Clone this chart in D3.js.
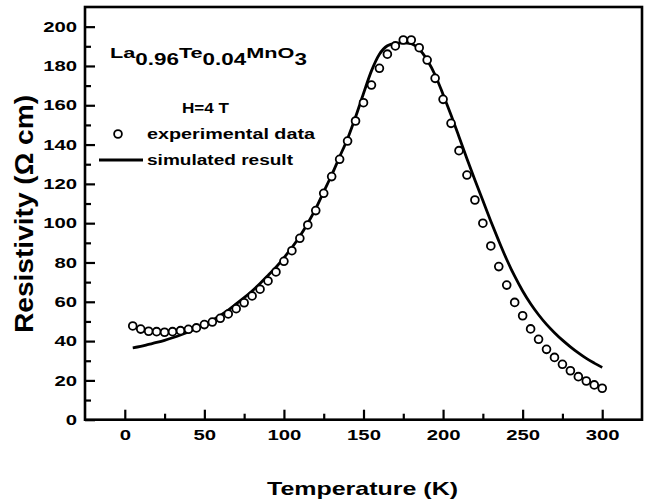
<!DOCTYPE html>
<html>
<head>
<meta charset="utf-8">
<script src="https://cdn.jsdelivr.net/npm/d3@7"></script>
<style>
  body { margin: 0; background: #fff; }
  svg { display: block; }
  text { font-family: Arial, "Liberation Sans", sans-serif; font-weight: bold; fill: #000; }
</style>
</head>
<body>
<svg id="fig" width="650" height="502"></svg>
<script>

// experimental data, H = 4 T (every 5 K)
var exp_T = [5, 10, 15, 20, 25, 30, 35, 40, 45, 50, 55, 60, 65, 70, 75, 80, 85, 90, 95, 100,
             105, 110, 115, 120, 125, 130, 135, 140, 145, 150, 155, 160, 165, 170, 175, 180, 185, 190, 195, 200,
             205, 210, 215, 220, 225, 230, 235, 240, 245, 250, 255, 260, 265, 270, 275, 280, 285, 290, 295, 300];
var exp_R = [47.7, 46.1, 45.0, 44.8, 44.5, 44.8, 45.3, 46.0, 46.7, 48.4, 49.7, 51.6, 53.8, 56.5, 59.5, 63.0, 66.4, 70.6, 75.2, 80.6,
             86.0, 92.3, 99.1, 106.4, 115.2, 123.7, 132.5, 141.8, 152.0, 161.3, 170.3, 178.8, 186.0, 190.2, 193.2, 193.2, 189.3, 183.0, 173.7, 163.0,
             150.8, 136.9, 124.5, 111.8, 100.0, 88.4, 77.9, 68.5, 59.7, 52.9, 46.2, 40.9, 35.8, 31.7, 28.2, 24.9, 21.9, 19.7, 17.7, 16.0];

// simulated result
var sim_T = [5, 10, 15, 20, 25, 30, 35, 40, 45, 50, 55, 60, 65, 70, 75, 80, 85, 90, 95, 100,
             105, 110, 115, 120, 125, 130, 135, 140, 145, 150, 155, 160, 165, 170, 175, 180, 185, 190, 195, 200,
             205, 210, 215, 220, 225, 230, 235, 240, 245, 250, 255, 260, 265, 270, 275, 280, 285, 290, 295, 300];
var sim_R = [36.6, 37.3, 38.3, 39.3, 40.4, 41.7, 43.1, 44.7, 46.4, 48.3, 50.6, 53.1, 55.8, 58.9, 62.1, 65.5, 69.3, 73.4, 77.6, 82.4,
             87.6, 93.4, 100.0, 107.4, 116.0, 124.5, 133.8, 143.0, 154.0, 166.0, 177.5, 186.0, 190.3, 191.5, 191.8, 191.3, 188.6, 183.0, 175.4, 165.5,
             155.0, 144.0, 132.8, 122.0, 111.5, 101.0, 91.0, 81.5, 73.0, 65.5, 59.0, 53.4, 48.5, 44.3, 40.5, 37.1, 34.0, 31.2, 28.8, 26.6];

var x_ticks = [0, 50, 100, 150, 200, 250, 300];
var x_minor = [25, 75, 125, 175, 225, 275];
var y_ticks = [0, 20, 40, 60, 80, 100, 120, 140, 160, 180, 200];
var y_minor = [10, 30, 50, 70, 90, 110, 130, 150, 170, 190];

var stretch = 1.4;   // the original lettering is wide

function draw_fig(){

    var svg = d3.select("#fig");
    var left = 85, right = 642, top = 7, bottom = 419.7;

    var x = d3.scaleLinear().domain([-25, 325]).range([left, right]);
    var y = d3.scaleLinear().domain([0, 210]).range([bottom, top]);

    // minor ticks
    svg.append("g")
        .attr("transform", "translate(0," + bottom + ")")
        .call(d3.axisBottom(x).tickValues(x_minor).tickSize(-6).tickSizeOuter(0).tickFormat(""))
        .call(function(g){ g.select(".domain").remove(); });
    svg.append("g")
        .attr("transform", "translate(" + left + ",0)")
        .call(d3.axisLeft(y).tickValues(y_minor).tickSize(-6).tickSizeOuter(0).tickFormat(""))
        .call(function(g){ g.select(".domain").remove(); });

    // major ticks + labels
    var gx = svg.append("g")
        .attr("transform", "translate(0," + bottom + ")")
        .call(d3.axisBottom(x).tickValues(x_ticks).tickSize(-10).tickSizeOuter(0).tickPadding(10.5));
    gx.select(".domain").remove();
    gx.selectAll("text")
        .style("font-size", "14.5px")
        .attr("transform", "scale(" + stretch + ",1)");

    var gy = svg.append("g")
        .attr("transform", "translate(" + left + ",0)")
        .call(d3.axisLeft(y).tickValues(y_ticks).tickSize(-10).tickSizeOuter(0));
    gy.select(".domain").remove();
    gy.selectAll("text")
        .style("font-size", "14.5px")
        .attr("x", -8 / stretch)
        .attr("transform", "scale(" + stretch + ",1)");

    svg.selectAll(".tick line").attr("stroke", "#000").attr("stroke-width", 2.2);

    // frame
    svg.append("rect")
        .attr("x", left).attr("y", top)
        .attr("width", right - left).attr("height", bottom - top)
        .attr("fill", "none").attr("stroke", "#000").attr("stroke-width", 2.6);

    // simulated line
    var sim = sim_T.map(function(t, i){ return [t, sim_R[i]]; });
    svg.append("path")
        .datum(sim)
        .attr("fill", "none").attr("stroke", "#000").attr("stroke-width", 2.8)
        .attr("d", d3.line().curve(d3.curveMonotoneX)
            .x(function(d){ return x(d[0]); })
            .y(function(d){ return y(d[1]); }));

    // experimental points
    var pts = exp_T.map(function(t, i){ return [t, exp_R[i]]; });
    svg.append("g").selectAll("circle")
        .data(pts).enter().append("circle")
        .attr("cx", function(d){ return x(d[0]); })
        .attr("cy", function(d){ return y(d[1]); })
        .attr("r", 3.9)
        .attr("fill", "#fff").attr("stroke", "#000").attr("stroke-width", 1.8);

    // formula
    var f = svg.append("text")
        .attr("transform", "translate(110,58.3) scale(" + stretch + ",1)")
        .style("font-size", "15.5px");
    var parts = [["La", 0], ["0.96", 1], ["Te", 0], ["0.04", 1], ["MnO", 0], ["3", 1]];
    var cur = 0;
    parts.forEach(function(p){
        var dy = p[1] - cur;
        f.append("tspan")
            .attr("dy", dy * 6.5)
            .style("font-size", p[1] ? "16px" : "15.5px")
            .text(p[0]);
        cur = p[1];
    });

    // legend
    svg.append("text").attr("x", 182).attr("y", 113)
        .style("font-size", "14.5px")
        .attr("textLength", 47).attr("lengthAdjust", "spacingAndGlyphs")
        .text("H=4 T");
    svg.append("circle").attr("cx", 118).attr("cy", 134).attr("r", 3.9)
        .attr("fill", "#fff").attr("stroke", "#000").attr("stroke-width", 1.8);
    svg.append("text").attr("x", 147).attr("y", 139.3)
        .style("font-size", "14.5px")
        .attr("textLength", 168).attr("lengthAdjust", "spacingAndGlyphs")
        .text("experimental data");
    svg.append("line").attr("x1", 99).attr("x2", 143).attr("y1", 160).attr("y2", 160)
        .attr("stroke", "#000").attr("stroke-width", 2.8);
    svg.append("text").attr("x", 147).attr("y", 165)
        .style("font-size", "14.5px")
        .attr("textLength", 146).attr("lengthAdjust", "spacingAndGlyphs")
        .text("simulated result");

    // axis titles
    svg.append("text").attr("x", 267).attr("y", 494.5)
        .style("font-size", "19px")
        .attr("textLength", 191).attr("lengthAdjust", "spacingAndGlyphs")
        .text("Temperature (K)");
    svg.append("text")
        .attr("transform", "translate(33,333) rotate(-90)")
        .style("font-size", "25px")
        .attr("textLength", 238).attr("lengthAdjust", "spacingAndGlyphs")
        .text("Resistivity (\u03A9 cm)");
}

draw_fig();
</script>
</body>
</html>
